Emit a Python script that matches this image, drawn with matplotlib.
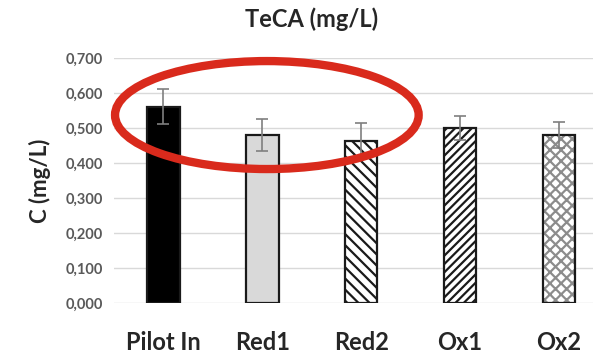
import matplotlib.pyplot as plt
import numpy as np
from matplotlib.patches import Ellipse

# TeCA concentrations per sampling point
categories = ['Pilot In', 'Red1', 'Red2', 'Ox1', 'Ox2']
conc = [0.561, 0.480, 0.463, 0.500, 0.480]
err = [0.050, 0.045, 0.050, 0.035, 0.038]
yticks = [0.0, 0.1, 0.2, 0.3, 0.4, 0.5, 0.6, 0.7]

plt.rcParams['font.family'] = ['Lato', 'DejaVu Sans']
plt.rcParams['hatch.linewidth'] = 1.6

fig = plt.figure(figsize=(5.93, 3.54), dpi=100)
ax = fig.add_axes([0.192, 0.144, 0.834, 0.692])

x = np.arange(len(categories))
faces = ['black', '#d9d9d9', 'white', 'white', 'white']
hatches = [None, None, '\\\\\\', '////', 'xxx']
hatch_cols = ['#1a1a1a', '#1a1a1a', '#1a1a1a', '#1a1a1a', '#8c8c8c']
for i in range(len(categories)):
    # fill + hatch first, then the dark outline on top
    ax.bar(x[i], conc[i], width=0.33, color=faces[i], edgecolor=hatch_cols[i],
           linewidth=0, hatch=hatches[i], zorder=3)
    ax.bar(x[i], conc[i], width=0.33, fill=False, edgecolor='#1a1a1a',
           linewidth=1.6, zorder=3)
ax.errorbar(x, conc, yerr=err, fmt='none', ecolor='#7f7f7f', elinewidth=1.2,
            capsize=4, capthick=1.2, zorder=4)

ax.set_xlim(-0.5, 4.5)
ax.set_ylim(0, 0.7)
ax.set_yticks(yticks)
ax.set_yticklabels(['{:.3f}'.format(v).replace('.', ',') for v in yticks],
                   color='#595959', fontsize=10.5, fontweight='bold')
ax.set_xticks(x)
ax.set_xticklabels(categories, fontsize=17, fontweight='bold', color='#262626')
ax.tick_params(length=0, pad=8)
ax.tick_params(axis='x', pad=20)
ax.grid(axis='y', color='#d9d9d9', linewidth=1, zorder=0)
for s in ax.spines.values():
    s.set_visible(False)

ax.set_ylabel('C (mg/L)', fontsize=16, fontweight='bold', color='#262626', labelpad=10)
fig.text(0.526, 0.945, 'TeCA (mg/L)', ha='center', va='center',
         fontsize=17, fontweight='bold', color='#262626')

# red highlight ellipse
ell = Ellipse((0.450, 0.675), 0.512, 0.305, transform=fig.transFigure,
              fill=False, edgecolor='#d92a1c', linewidth=6, zorder=10)
fig.patches.append(ell)

plt.savefig('out.png', dpi=100)
